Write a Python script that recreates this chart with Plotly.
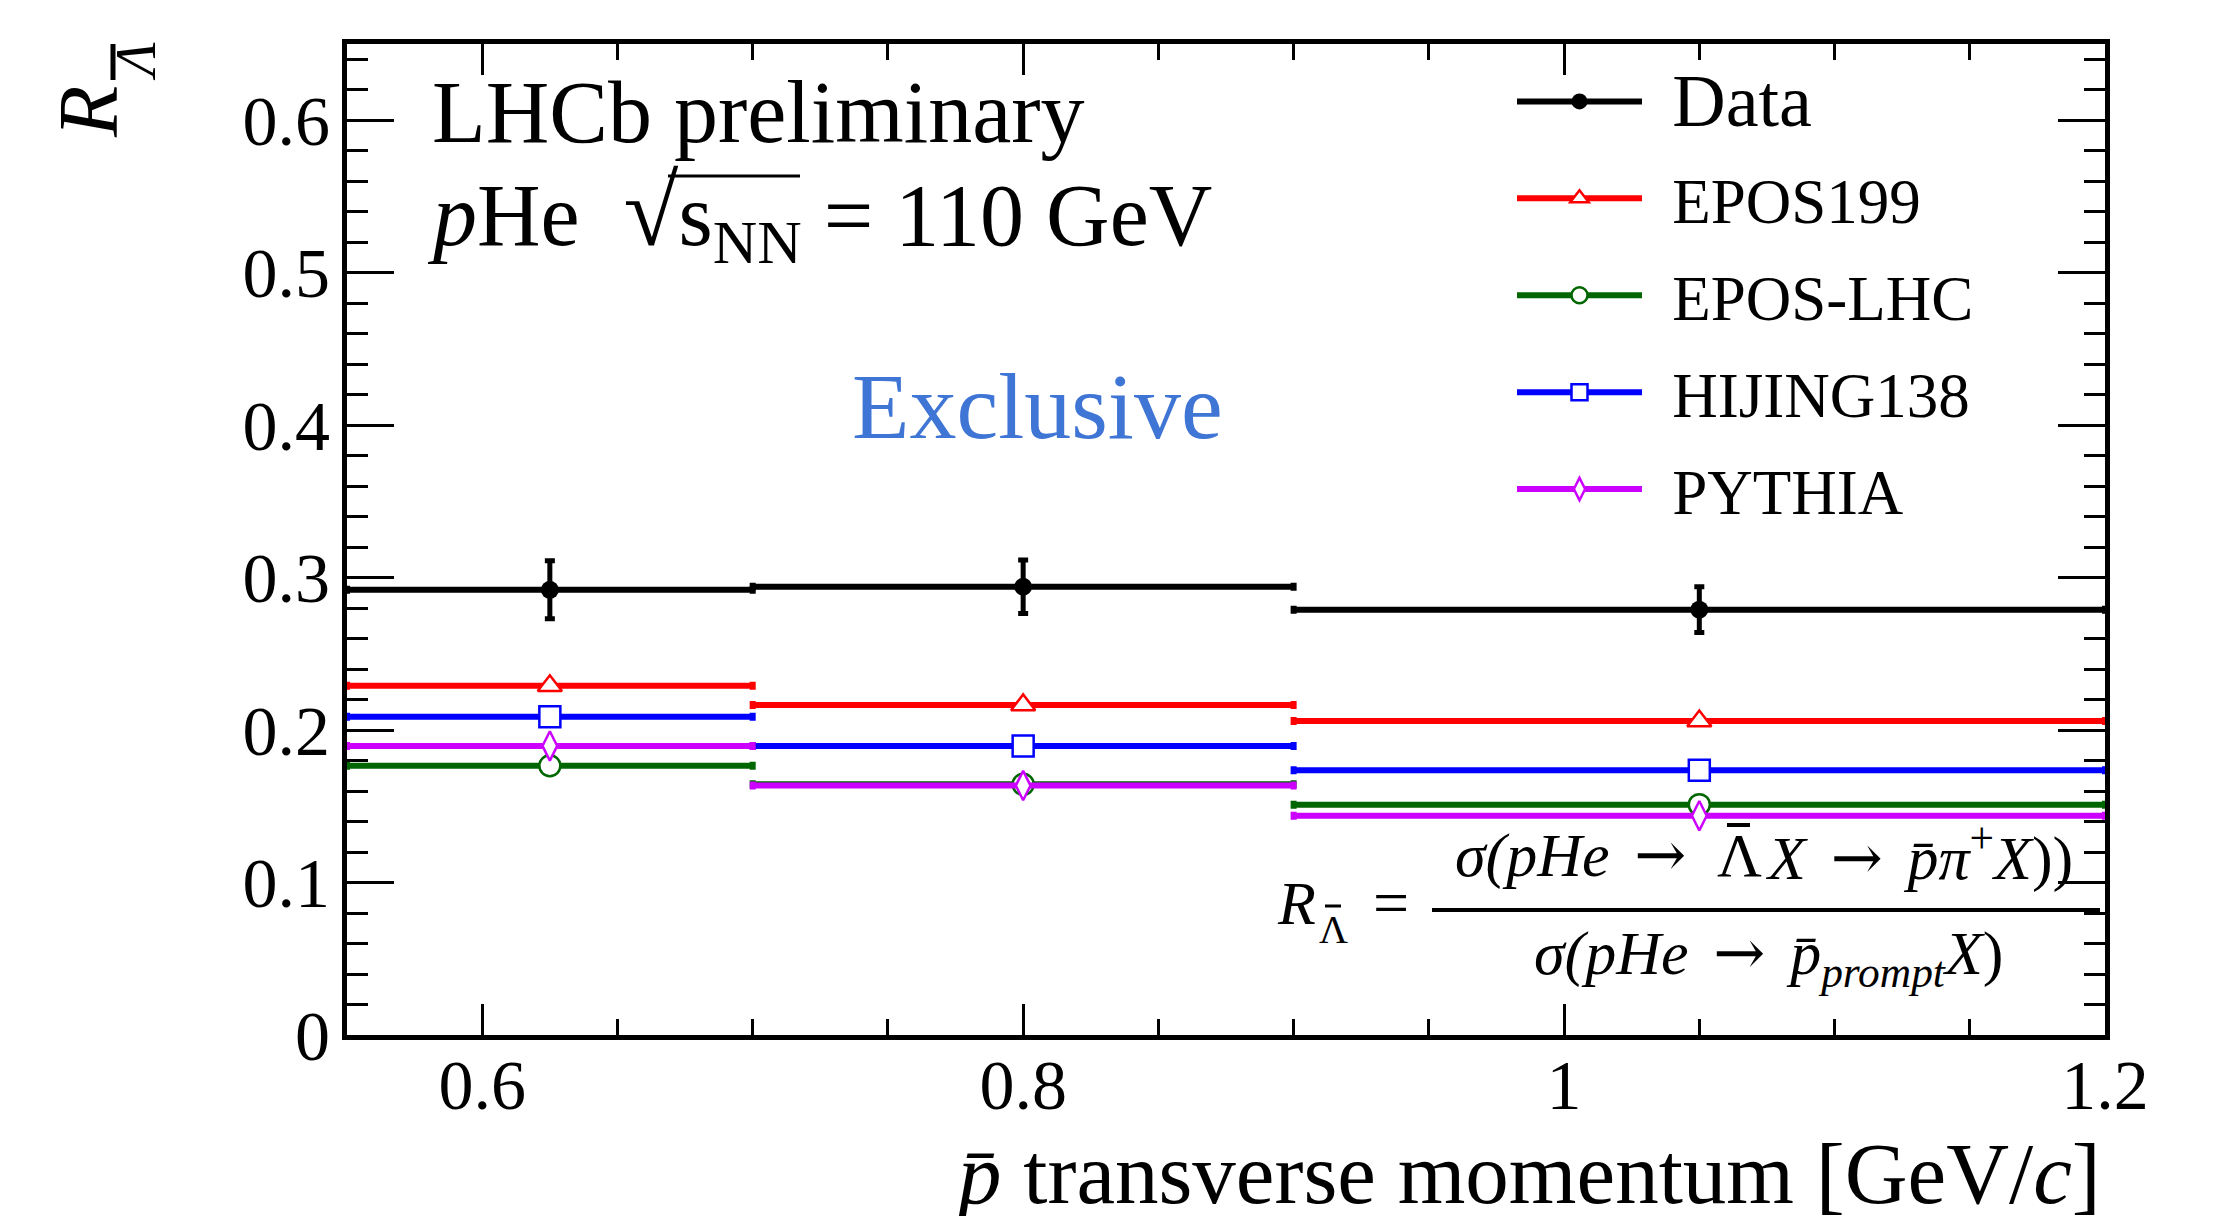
import plotly.graph_objects as go

# ---------------- data ----------------
bin_edges = [0.55, 0.70, 0.90, 1.20]
data_vals = [0.292, 0.294, 0.279]
data_errs = [0.019, 0.0175, 0.015]
epos199 = [0.229, 0.2165, 0.206]
epos_lhc = [0.1766, 0.1644, 0.1511]
hijing138 = [0.2088, 0.1896, 0.1737]
pythia = [0.1896, 0.1636, 0.1438]

model_names = ["EPOS199", "EPOS-LHC", "HIJING138", "PYTHIA"]
model_vals = [epos199, epos_lhc, hijing138, pythia]
model_colors = ["#FF0000", "#006600", "#0000FF", "#CC00FF"]
model_symbols = ["triangle-up", "circle", "square", "diamond-tall"]

centers = [(a + b) / 2 for a, b in zip(bin_edges[:-1], bin_edges[1:])]
halfw = [(b - a) / 2 for a, b in zip(bin_edges[:-1], bin_edges[1:])]

FONT = "Liberation Serif, Times New Roman, serif"
W, H = 2220, 1216
L, R, T, B = 347, 115, 44, 181
PW, PH = W - L - R, H - T - B


def px(x):
    return (x - L) / PW


def py(y):
    return (H - B - y) / PH


GAP = "\u2009\u2009"
ARROW = "<span style='font-family:DejaVu Serif'>→</span>"

fig = go.Figure()

# model histograms (drawn as horizontal bin-width bars with markers)
for name, vals, col, sym in zip(model_names, model_vals, model_colors, model_symbols):
    fig.add_trace(go.Scatter(
        x=centers, y=vals, mode="markers", showlegend=False, name=name,
        error_x=dict(type="data", array=halfw, arrayminus=halfw, symmetric=False,
                     color=col, thickness=6, width=4),
        marker=dict(symbol=sym, size=21, color="white", line=dict(color=col, width=2.5)),
    ))

# data
fig.add_trace(go.Scatter(
    x=centers, y=data_vals, mode="markers", showlegend=False, name="Data",
    error_x=dict(type="data", array=halfw, arrayminus=halfw, symmetric=False,
                 color="black", thickness=6, width=4),
    error_y=dict(type="data", array=data_errs, color="black", thickness=5, width=5),
    marker=dict(symbol="circle", size=18, color="black"),
))

# legend entries
fig.add_trace(go.Scatter(
    x=[None], y=[None], mode="lines+markers",
    name=GAP + "<span style='font-size:74px'>Data</span>",
    legendgroup="d", line=dict(color="black", width=6),
    marker=dict(symbol="circle", size=16, color="black"),
))
for i, (name, col, sym) in enumerate(zip(model_names, model_colors, model_symbols)):
    fig.add_trace(go.Scatter(
        x=[None], y=[None], mode="lines+markers", name=GAP + name, legendgroup="m%d" % i,
        line=dict(color=col, width=6),
        marker=dict(symbol=sym, size=16, color="white", line=dict(color=col, width=2.5)),
    ))

axis_common = dict(
    showline=True, linewidth=5, linecolor="black", mirror="allticks",
    ticks="inside", tickwidth=3, tickcolor="black", showgrid=False, zeroline=False,
    tickfont=dict(family=FONT, size=70, color="black"),
)

fig.update_xaxes(range=[0.55, 1.2], tick0=0.6, dtick=0.2, ticklen=31,
                 ticklabelstandoff=-15,
                 minor=dict(dtick=0.05, tick0=0.55, ticks="inside", ticklen=16,
                            tickwidth=3, tickcolor="black"),
                 **axis_common)
fig.update_yaxes(range=[0, 0.65], tick0=0, dtick=0.1, ticklen=47,
                 ticklabelstandoff=-2,
                 minor=dict(dtick=0.02, tick0=0, ticks="inside", ticklen=21,
                            tickwidth=3, tickcolor="black"),
                 **axis_common)


def A(text, x, y, xa="center", ya="middle", size=62, color="black", angle=0):
    return dict(text=text, x=px(x), y=py(y), xanchor=xa, yanchor=ya, textangle=angle,
                xref="paper", yref="paper", showarrow=False,
                font=dict(family=FONT, size=size, color=color))


ann = [
    A("LHCb preliminary", 430, 113, xa="left", size=88),
    A("<i>p</i>He  <span style='font-size:100px'>√</span>s<sub>NN</sub> = 110 GeV",
      425, 216, xa="left", size=88),
    A("Exclusive", 1037, 406, size=94, color="#3F75D4"),
    # y-axis title  R with Lambda-bar subscript (rotated)
    A("<i>R</i>", 88, 112, size=84, angle=-90),
    A("<i>Λ</i>", 136, 62, size=56, angle=-90),
    # x-axis title
    A("<i>p̄</i> transverse momentum [GeV/<i>c</i>]", 2103, 1174, xa="right", size=87),
    # formula
    A("<i>R</i>", 1296, 903, size=62),
    A("Λ", 1333, 929, size=40),
    A("=", 1391, 902, size=64),
    A("<i>σ(pHe</i>" + GAP + ARROW + GAP, 1713, 854, xa="right", size=62),
    A("Λ", 1739, 855, size=62),
    A("<i>X</i>" + GAP + ARROW + GAP + "<i>p̄π</i><sup>+</sup><i>X</i>))", 1763, 854,
      xa="left", size=62),
    A("<i>σ(pHe</i>" + GAP + ARROW + GAP + "<i>p̄</i><sub><i>prompt</i></sub><i>X</i>)",
      1768, 956, size=62),
]


def hline(x0, x1, y, w):
    return dict(type="line", xref="paper", yref="paper", x0=px(x0), x1=px(x1),
                y0=py(y), y1=py(y), line=dict(color="black", width=w))


def vline(x, y0, y1, w):
    return dict(type="line", xref="paper", yref="paper", x0=px(x), x1=px(x),
                y0=py(y0), y1=py(y1), line=dict(color="black", width=w))


shapes = [
    hline(1432, 2100, 910, 4),      # fraction bar
    hline(668, 800, 176, 3),        # square-root overline
    vline(113, 44, 80, 5),          # bar over Lambda in y title
    hline(1325, 1341, 906, 3),      # bar over Lambda in R subscript
    hline(1727, 1750, 825, 4),      # bar over Lambda in numerator
]

fig.update_layout(
    width=W, height=H, margin=dict(l=L, r=R, t=T, b=B),
    paper_bgcolor="white", plot_bgcolor="white",
    annotations=ann, shapes=shapes,
    legend=dict(x=px(1512), y=py(54), xanchor="left", yanchor="top",
                font=dict(family=FONT, size=63, color="black"),
                bgcolor="rgba(0,0,0,0)", itemwidth=125, tracegroupgap=12,
                itemsizing="trace"),
    font=dict(family=FONT, color="black"),
)

fig.write_html("out.html")
